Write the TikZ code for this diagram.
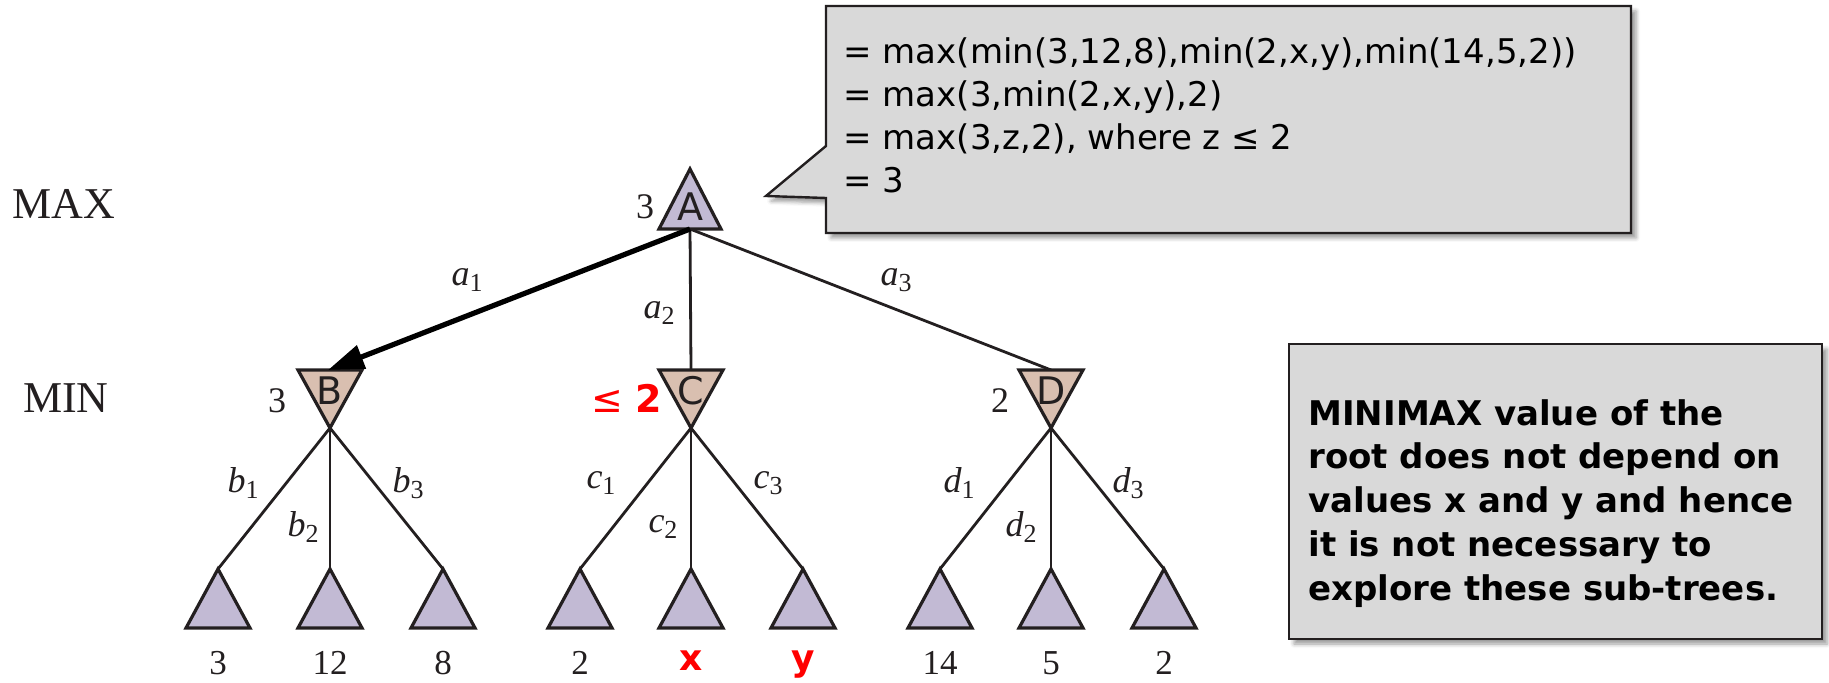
\documentclass[tikz,border=0pt]{standalone}
\usepackage{fontspec}
\setmainfont{Liberation Serif}
\newfontfamily\vsans{DejaVu Sans}
\usetikzlibrary{arrows.meta,shadows.blur}
\definecolor{maxc}{RGB}{194,186,212}
\definecolor{minc}{RGB}{217,191,176}
\definecolor{edgec}{RGB}{35,31,32}
\definecolor{boxc}{RGB}{217,217,217}
\definecolor{redc}{RGB}{255,0,0}
\newcommand\elabtxt[2]{{\itshape #1}\raisebox{-0.35ex}{\fontsize{13}{13}\selectfont #2}}
\begin{document}
\begin{tikzpicture}[x=0.5pt,y=-0.5pt,
  tri/.style={draw=edgec, line width=1.6pt, line join=miter},
  maxtri/.style={tri, fill=maxc},
  mintri/.style={tri, fill=minc},
  edge/.style={draw=edgec, line width=1.4pt},
  bestedge/.style={draw=black, line width=2.6pt, -{Triangle[length=18pt,width=12pt]}},
  letter/.style={font=\vsans\fontsize{19}{19}\selectfont, text=edgec, inner sep=0pt},
  val/.style={font=\fontsize{18}{18}\selectfont, text=edgec, anchor=base, inner sep=0pt},
  leafval/.style={font=\fontsize{17.5}{17.5}\selectfont, text=edgec, anchor=base, inner sep=0pt},
  edgelab/.style={font=\fontsize{18}{18}\selectfont, text=edgec, inner sep=0pt},
  player/.style={font=\fontsize{22}{22}\selectfont, text=edgec, anchor=base, inner sep=0pt},
  redv/.style={font=\vsans\bfseries\fontsize{18}{18}\selectfont, text=redc, anchor=base, inner sep=0pt},
  note/.style={font=\vsans\fontsize{17}{17}\selectfont, anchor=base west, inner sep=0pt},
  notebold/.style={font=\vsans\bfseries\fontsize{17}{17}\selectfont, anchor=base west, inner sep=0pt},
  boxstyle/.style={draw=edgec, line width=1.2pt, fill=boxc,
     blur shadow={shadow xshift=2.5pt, shadow yshift=-2.5pt, shadow blur radius=2pt}}
]
\useasboundingbox (0,0) rectangle (1829,683);

% player labels
\node[player] (maxlab) at (64,219) {MAX};
\node[player] (minlab) at (66,413) {MIN};

% coordinates
\coordinate (Ab) at (690,229);
\coordinate (Bt) at (328,370); \coordinate (Bb) at (330,428);
\coordinate (Ct) at (691,370); \coordinate (Cb) at (691,428);
\coordinate (Dt) at (1051,370); \coordinate (Db) at (1051,428);
\foreach \n/\x in {b1/218,b2/330,b3/443,c1/580,c2/691,c3/803,d1/940,d2/1051,d3/1164}{
  \coordinate (\n) at (\x,569);
}

% edges
\draw[edge] (Ab) -- (Ct);
\draw[edge] (Ab) -- (Dt);
\draw[edge] (Bb) -- (b1); \draw[edge] (Bb) -- (b2); \draw[edge] (Bb) -- (b3);
\draw[edge] (Cb) -- (c1); \draw[edge] (Cb) -- (c2); \draw[edge] (Cb) -- (c3);
\draw[edge] (Db) -- (d1); \draw[edge] (Db) -- (d2); \draw[edge] (Db) -- (d3);

% root
\draw[maxtri] (659,229) -- (690,169) -- (721,229) -- cycle;
\node[letter] (A) at (690,207) {A};
\node[val] (Av) at (645,219) {3};

% min nodes
\foreach \x in {330,691,1051}{
  \draw[mintri] (\x-32,370) -- (\x+32,370) -- (\x,428) -- cycle;
}
\node[letter] (B) at (330,391) {B};
\node[letter] (C) at (691,391) {C};
\node[letter] (D) at (1051,391) {D};
\node[val] (Bv) at (277,413) {3};
\node[redv, font=\vsans\fontsize{19}{19}\selectfont] (Cv) at (627,413) {≤ {\bfseries 2}};
\node[val] (Dv) at (1000,413) {2};

% best move arrow
\draw[bestedge] (Ab) -- (Bt);

% leaves
\foreach \x in {218,330,443,580,691,803,940,1051,1164}{
  \draw[maxtri] (\x,569) -- (\x+32,628) -- (\x-32,628) -- cycle;
}
\node[leafval] (v1) at (218,674) {3};
\node[leafval] (v2) at (330,674) {12};
\node[leafval] (v3) at (443,674) {8};
\node[leafval] (v4) at (580,674) {2};
\node[redv] (v5) at (691,670) {x};
\node[redv] (v6) at (803,670) {y};
\node[leafval] (v7) at (940,674) {14};
\node[leafval] (v8) at (1051,674) {5};
\node[leafval] (v9) at (1164,674) {2};

% edge labels
\node[edgelab] (la1) at (467,280) {\elabtxt{a}{1}};
\node[edgelab] (la2) at (659,313) {\elabtxt{a}{2}};
\node[edgelab] (la3) at (896,280) {\elabtxt{a}{3}};
\node[edgelab] (lb1) at (243,483) {\elabtxt{b}{1}};
\node[edgelab] (lb2) at (303,527) {\elabtxt{b}{2}};
\node[edgelab] (lb3) at (408,483) {\elabtxt{b}{3}};
\node[edgelab] (lc1) at (601,483) {\elabtxt{c}{1}};
\node[edgelab] (lc2) at (663,527) {\elabtxt{c}{2}};
\node[edgelab] (lc3) at (768,483) {\elabtxt{c}{3}};
\node[edgelab] (ld1) at (959,483) {\elabtxt{d}{1}};
\node[edgelab] (ld2) at (1021,527) {\elabtxt{d}{2}};
\node[edgelab] (ld3) at (1128,483) {\elabtxt{d}{3}};

% callout
\draw[boxstyle] (826,6) -- (1631,6) -- (1631,233) -- (826,233) -- (826,198) -- (766,196) -- (826,146) -- cycle;
\node[note] (cl1) at (843,64) {= max(min(3,12,8),min(2,x,y),min(14,5,2))};
\node[note] (cl2) at (843,107) {= max(3,min(2,x,y),2)};
\node[note] (cl3) at (843,150) {= max(3,z,2), where z ≤ 2};
\node[note] (cl4) at (843,193) {= 3};

% note box
\draw[boxstyle] (1289,344) rectangle (1822,639);
\node[notebold] (n1) at (1308,426) {MINIMAX value of the};
\node[notebold] (n2) at (1308,469) {root does not depend on};
\node[notebold] (n3) at (1308,512) {values x and y and hence};
\node[notebold] (n4) at (1308,556) {it is not necessary to};
\node[notebold] (n5) at (1308,600) {explore these sub-trees.};
\end{tikzpicture}
\end{document}
